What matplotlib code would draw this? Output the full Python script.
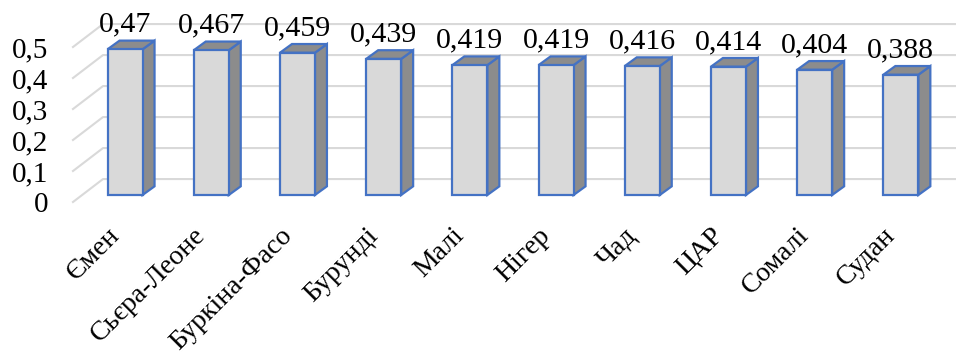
import matplotlib
matplotlib.use("Agg")
import matplotlib.pyplot as plt
from matplotlib.patches import Polygon

countries = ["Ємен", "Сьєра-Леоне", "Буркіна-Фасо", "Бурунді", "Малі",
             "Нігер", "Чад", "ЦАР", "Сомалі", "Судан"]
values = [0.47, 0.467, 0.459, 0.439, 0.419, 0.419, 0.416, 0.414, 0.404, 0.388]
yticks = [0, 0.1, 0.2, 0.3, 0.4, 0.5]

plt.rcParams["font.family"] = ["Liberation Serif", "DejaVu Serif"]

# oblique "3d" look: depth offsets in data units
DX, DY = 0.348, 0.074      # full depth of the floor
OX, OY = 0.104, 0.0226     # where the bar front sits
BX, BY = 0.139, 0.028      # bar depth
BW = 0.406                 # bar width

front_c = "#D9D9D9"
dark_c = "#8C8C8C"
edge_c = "#4472C4"
grid_c = "#D9D9D9"

fig = plt.figure(figsize=(9.56, 3.59), dpi=100)
ax = fig.add_axes([73 / 956, 157 / 359, 862 / 956, 155 / 359])
ax.set_xlim(-0.5, 9.5)
ax.set_ylim(0, 0.5)

# gridlines: slanted on the side wall, flat on the back wall
for t in yticks:
    ax.plot([-0.5, -0.5 + DX, 11], [t, t + DY, t + DY], color=grid_c,
            lw=1.5, clip_on=False, zorder=1)

for i, v in enumerate(values):
    x0 = i - BW / 2 + OX
    x1 = x0 + BW
    y0 = OY
    y1 = OY + v
    side = [(x1, y0), (x1 + BX, y0 + BY), (x1 + BX, y1 + BY), (x1, y1)]
    top = [(x0, y1), (x1, y1), (x1 + BX, y1 + BY), (x0 + BX, y1 + BY)]
    front = [(x0, y0), (x1, y0), (x1, y1), (x0, y1)]
    for pts, fc in [(side, dark_c), (top, dark_c), (front, front_c)]:
        ax.add_patch(Polygon(pts, closed=True, facecolor=fc, edgecolor=edge_c,
                             lw=1.6, joinstyle="miter", clip_on=False, zorder=3))
    ax.annotate(str(v).replace(".", ","), xy=(i + OX, y1 + BY),
                xytext=(0, 11.5), textcoords="offset points",
                ha="center", va="center", fontsize=21.5, zorder=4,
                annotation_clip=False)

ax.set_yticks(yticks)
ax.set_yticklabels([str(t).replace(".", ",") if t else "0" for t in yticks],
                   fontsize=21)
ax.set_xticks([i + OX - 0.21 for i in range(len(countries))])
ax.set_xticklabels(countries, fontsize=20, rotation=45, ha="right",
                   va="top", rotation_mode="anchor")
ax.tick_params(axis="y", length=0, pad=18)
ax.tick_params(axis="x", length=0, pad=15)
for s in ax.spines.values():
    s.set_visible(False)

fig.savefig("out.png", dpi=100)
